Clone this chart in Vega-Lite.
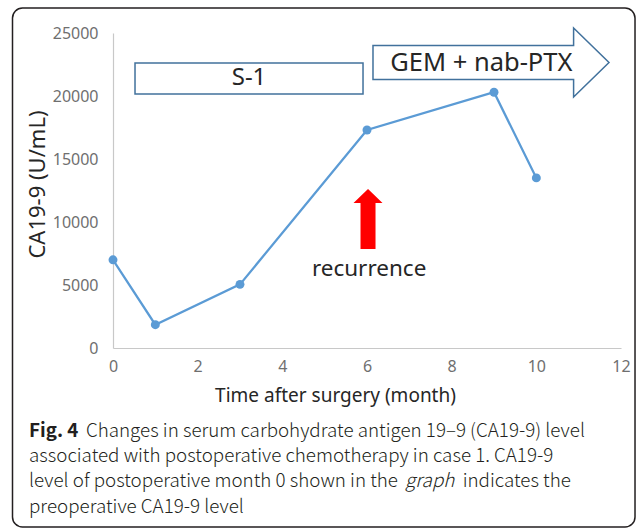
{
  "$schema": "https://vega.github.io/schema/vega-lite/v6.json",
  "width": 508,
  "height": 315,
  "autosize": "none",
  "padding": {"left": 113, "top": 33, "right": 16, "bottom": 180},
  "background": "white",
  "config": {
    "view": {"stroke": null},
    "font": "Noto Sans",
    "axis": {"grid": false, "ticks": false, "tickSize": 0, "labelFlush": false, "labelOverlap": false, "domainColor": "#c8c8c8", "domainWidth": 1.2, "labelColor": "#6f6f6f", "labelFontSize": 16, "titleColor": "#262626", "titleFontSize": 19, "titleFontWeight": "normal", "labelFont": "Noto Sans", "titleFont": "Noto Sans"}
  },
  "datasets": {
    "ca199": [
      {"month": 0, "ca199": 7000},
      {"month": 1, "ca199": 1850},
      {"month": 3, "ca199": 5050},
      {"month": 6, "ca199": 17300},
      {"month": 9, "ca199": 20300},
      {"month": 10, "ca199": 13500}
    ],
    "one": [{}]
  },
  "layer": [
    {
      "data": {"name": "one"},
      "mark": {"type": "rect", "fill": null, "stroke": "#231f20", "strokeWidth": 1.5, "cornerRadius": 10},
      "encoding": {
        "x": {"datum": -2.374, "type": "quantitative"},
        "x2": {"datum": 12.331},
        "y": {"datum": 26984, "type": "quantitative"},
        "y2": {"datum": -14206}
      }
    },
    {
      "data": {"name": "ca199"},
      "mark": {"type": "line", "color": "#5B9BD5", "strokeWidth": 2.25},
      "encoding": {
        "x": {"field": "month", "type": "quantitative", "scale": {"domain": [0, 12], "nice": false},
          "axis": {"title": "Time after surgery (month)", "values": [0, 2, 4, 6, 8, 10, 12], "labelPadding": 10, "titleX": 222, "titleY": 53, "titleBaseline": "alphabetic"}},
        "y": {"field": "ca199", "type": "quantitative", "scale": {"domain": [0, 25000], "nice": false},
          "axis": {"title": "CA19-9 (U/mL)", "titleFontSize": 22, "values": [0, 5000, 10000, 15000, 20000, 25000], "format": "d", "labelPadding": 15, "titleX": -64, "titleY": 151}}
      }
    },
    {
      "data": {"name": "ca199"},
      "mark": {"type": "point", "filled": true, "color": "#5B9BD5", "size": 80, "opacity": 1},
      "encoding": {
        "x": {"field": "month", "type": "quantitative"},
        "y": {"field": "ca199", "type": "quantitative"}
      }
    },
    {
      "data": {"name": "one"},
      "mark": {"type": "rect", "fill": "white", "stroke": "#41719C", "strokeWidth": 1.5},
      "encoding": {
        "x": {"datum": 0.52, "type": "quantitative"},
        "x2": {"datum": 5.906},
        "y": {"datum": 22619, "type": "quantitative"},
        "y2": {"datum": 20159}
      }
    },
    {
      "data": {"name": "one"},
      "mark": {"type": "text", "text": "S-1", "fontSize": 24, "color": "#262626", "baseline": "middle", "align": "center"},
      "encoding": {
        "x": {"datum": 3.213, "type": "quantitative"},
        "y": {"datum": 21389, "type": "quantitative"}
      }
    },
    {
      "data": {"name": "one"},
      "mark": {"type": "point", "shape": "M -1 -0.144 L 0.7 -0.144 L 0.7 -0.292 L 1 0 L 0.7 0.292 L 0.7 0.144 L -1 0.144 Z", "size": 55696, "filled": true, "fill": "white", "stroke": "#41719C", "strokeWidth": 1.5, "opacity": 1},
      "encoding": {
        "x": {"datum": 8.929, "type": "quantitative"},
        "y": {"datum": 22659, "type": "quantitative"}
      }
    },
    {
      "data": {"name": "one"},
      "mark": {"type": "text", "text": "GEM + nab-PTX", "fontSize": 25.5, "color": "#262626", "baseline": "middle", "align": "center"},
      "encoding": {
        "x": {"datum": 8.70, "type": "quantitative"},
        "y": {"datum": 22643, "type": "quantitative"}
      }
    },
    {
      "data": {"name": "one"},
      "mark": {"type": "point", "shape": "M 0 -1 L 0.483 -0.533 L 0.25 -0.533 L 0.25 1 L -0.25 1 L -0.25 -0.533 L -0.483 -0.533 Z", "size": 3600, "filled": true, "fill": "#FF0000", "strokeWidth": 0, "opacity": 1},
      "encoding": {
        "x": {"datum": 6.024, "type": "quantitative"},
        "y": {"datum": 10238, "type": "quantitative"}
      }
    },
    {
      "data": {"name": "one"},
      "mark": {"type": "text", "text": "recurrence", "fontSize": 22.5, "color": "#262626", "baseline": "alphabetic", "align": "center"},
      "encoding": {
        "x": {"datum": 6.05, "type": "quantitative"},
        "y": {"datum": 5714, "type": "quantitative"}
      }
    },
    {
      "data": {"name": "one"},
      "mark": {"type": "text", "text": "Fig. 4", "font": "Noto Sans CJK JP", "fontSize": 18.8, "fontWeight": "bold", "color": "#231f20", "baseline": "alphabetic", "align": "left"},
      "encoding": {
        "x": {"datum": -1.984, "type": "quantitative"},
        "y": {"datum": -7063, "type": "quantitative"}
      }
    },
    {
      "data": {"name": "one"},
      "mark": {"type": "text", "text": "Changes in serum carbohydrate antigen 19–9 (CA19-9) level", "font": "Noto Sans CJK JP", "fontWeight": 300, "fontSize": 18.8, "color": "#231f20", "baseline": "alphabetic", "align": "left"},
      "encoding": {
        "x": {"datum": -0.64, "type": "quantitative"},
        "y": {"datum": -7063, "type": "quantitative"}
      }
    },
    {
      "data": {"name": "one"},
      "mark": {"type": "text", "text": "associated with postoperative chemotherapy in case 1. CA19-9", "font": "Noto Sans CJK JP", "fontWeight": 300, "fontSize": 18.8, "color": "#231f20", "baseline": "alphabetic", "align": "left"},
      "encoding": {
        "x": {"datum": -1.984, "type": "quantitative"},
        "y": {"datum": -9087, "type": "quantitative"}
      }
    },
    {
      "data": {"name": "one"},
      "mark": {"type": "text", "text": "level of postoperative month 0 shown in the", "font": "Noto Sans CJK JP", "fontWeight": 300, "fontSize": 18.8, "color": "#231f20", "baseline": "alphabetic", "align": "left"},
      "encoding": {
        "x": {"datum": -1.984, "type": "quantitative"},
        "y": {"datum": -11071, "type": "quantitative"}
      }
    },
    {
      "data": {"name": "one"},
      "mark": {"type": "text", "text": "graph", "font": "Noto Sans CJK JP", "fontWeight": 300, "fontSize": 18.8, "fontStyle": "italic", "color": "#231f20", "baseline": "alphabetic", "align": "left"},
      "encoding": {
        "x": {"datum": 6.9, "type": "quantitative"},
        "y": {"datum": -11071, "type": "quantitative"}
      }
    },
    {
      "data": {"name": "one"},
      "mark": {"type": "text", "text": "indicates the", "font": "Noto Sans CJK JP", "fontWeight": 300, "fontSize": 18.8, "color": "#231f20", "baseline": "alphabetic", "align": "left"},
      "encoding": {
        "x": {"datum": 8.26, "type": "quantitative"},
        "y": {"datum": -11071, "type": "quantitative"}
      }
    },
    {
      "data": {"name": "one"},
      "mark": {"type": "text", "text": "preoperative CA19-9 level", "font": "Noto Sans CJK JP", "fontWeight": 300, "fontSize": 18.8, "color": "#231f20", "baseline": "alphabetic", "align": "left"},
      "encoding": {
        "x": {"datum": -1.984, "type": "quantitative"},
        "y": {"datum": -13056, "type": "quantitative"}
      }
    }
  ]
}
